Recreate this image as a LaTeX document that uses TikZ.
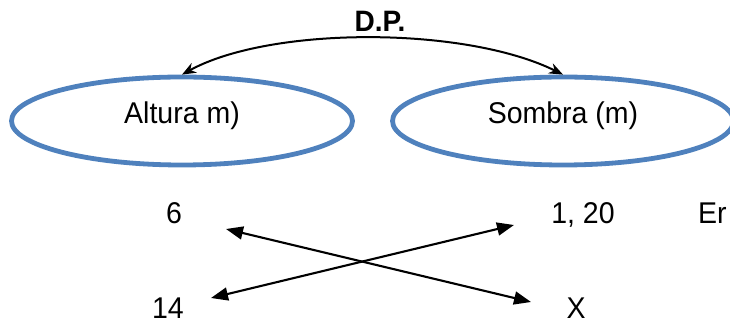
\documentclass[tikz,border=0pt]{standalone}
\usepackage{fontspec}
\setmainfont[FakeStretch=0.95]{Liberation Sans}
\usetikzlibrary{arrows.meta,shapes.geometric}
\definecolor{ovalblue}{HTML}{4F81BD}
\begin{document}
\begin{tikzpicture}[x=1pt,y=-1pt,
  bigfont/.style={font=\fontsize{30}{34}\selectfont},
  oval/.style={draw=ovalblue,line width=4.8pt,ellipse,minimum width=341pt,minimum height=88pt,inner sep=0pt,
    bigfont,text height=0.72em,text depth=0.21em},
  txt/.style={bigfont,inner sep=0pt,anchor=base},
  crossarrow/.style={line width=2.1pt,{Triangle[length=17pt,width=13pt]}-{Triangle[length=17pt,width=13pt]}},
  dparrow/.style={line width=2pt,{Stealth[length=14pt,width=11pt]}-{Stealth[length=14pt,width=11pt]}}]
\useasboundingbox (0,0) rectangle (730,328);
% the two quantities
\node[oval] (altura) at (182,121) {Altura m)};
\node[oval] (sombra) at (563,121) {Sombra (m)};
% direct proportion link
\node[txt,font=\bfseries\fontsize{29.5}{33}\selectfont] (dp) at (380,32) {D.P.};
\draw[dparrow] (altura.north) .. controls (270,26) and (465,26) .. (sombra.north);
% values
\node[txt] (v6) at (174,224) {6};
\node[txt] (v120) at (583,224) {1, 20};
\node[txt,anchor=base west] (er) at (698,224) {Er};
\node[txt] (v14) at (168,319) {14};
\node[txt] (vx) at (576,319) {X};
% arrow ends
\coordinate (p6) at (226,229);
\coordinate (px) at (531,302);
\coordinate (p14) at (211,298);
\coordinate (p120) at (514,225);
\draw[crossarrow] (p6) -- (px);
\draw[crossarrow] (p14) -- (p120);
\end{tikzpicture}
\end{document}
